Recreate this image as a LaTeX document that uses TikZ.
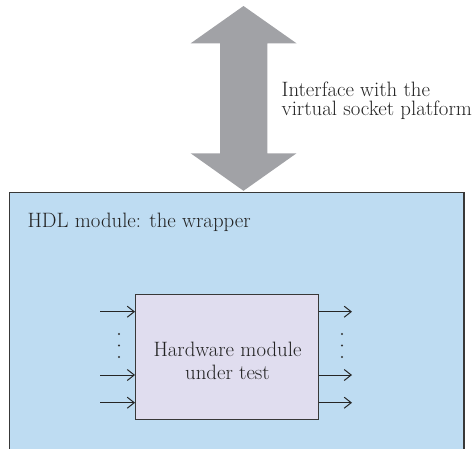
\documentclass[tikz,border=0pt]{standalone}
\usepackage{fontspec}
\usetikzlibrary{arrows.meta}

\definecolor{wrapfill}{HTML}{BEDCF2}
\definecolor{mutfill}{HTML}{E0DDEF}
\definecolor{ifacegray}{HTML}{A1A2A6}
\definecolor{inkline}{HTML}{383838}
\definecolor{inktext}{HTML}{222222}

\tikzset{
  wrapbox/.style={draw=inkline, line width=1.3pt, fill=wrapfill, rectangle,
    inner sep=0pt, anchor=north west},
  mutbox/.style={draw=inkline, line width=1.3pt, fill=mutfill, rectangle,
    inner sep=0pt},
  caption/.style={inner sep=0pt, text=inktext, anchor=base,
    font=\fontsize{20.8}{21}\selectfont},
  sig/.style={draw=black!85, line width=1pt,
    -{Straight Barb[length=7pt,width=11pt,line width=1pt]}},
  busdot/.style={fill=black!80, draw=none},
}

\begin{document}
\begin{tikzpicture}[x=1pt,y=-1pt]
  \useasboundingbox (0,0) rectangle (476,448);
  \clip (0,0) rectangle (476,448);

  % wrapper module (open at the bottom of the page)
  \node[wrapbox, minimum width=454.3pt, minimum height=290pt] (wrapper) at (9,192) {};
  \node[caption, anchor=base west] (wraplabel) at (27.3,227.7) {HDL module: the wrapper};

  % double-headed interface arrow
  \fill[ifacegray] (243.5,6) -- (296.5,43.3) -- (267.3,43.3) -- (267.3,153.3)
    -- (296.5,153.3) -- (243.5,190.8) -- (190.7,153.3) -- (220,153.3)
    -- (220,43.3) -- (190.7,43.3) -- cycle;
  \node[caption, anchor=base west] (ifacelabelA) at (281.5,96.3) {Interface with the};
  \node[caption, anchor=base west] (ifacelabelB) at (281.5,115.3) {virtual socket platform};

  % module under test
  \node[mutbox, minimum width=182.6pt, minimum height=125pt] (mut) at (227,356.8) {};
  \node[caption] (mutlabelA) at (227.5,356) {Hardware module};
  \node[caption] (mutlabelB) at (227.5,379) {under test};

  % input and output signals
  \foreach \k/\y in {1/311.7, 2/375, 3/402.7} {
    \coordinate (in\k) at (100,\y);
    \coordinate (out\k) at (352,\y);
    \draw[sig] (in\k) -- (in\k -| mut.west);
    \draw[sig] (out\k -| mut.east) -- (out\k);
  }

  % ellipsis between the signal lines
  \foreach \y in {334,345.5,357} {
    \fill[busdot] (119,\y) circle (1.2pt);
    \fill[busdot] (342,\y) circle (1.2pt);
  }
\end{tikzpicture}
\end{document}
